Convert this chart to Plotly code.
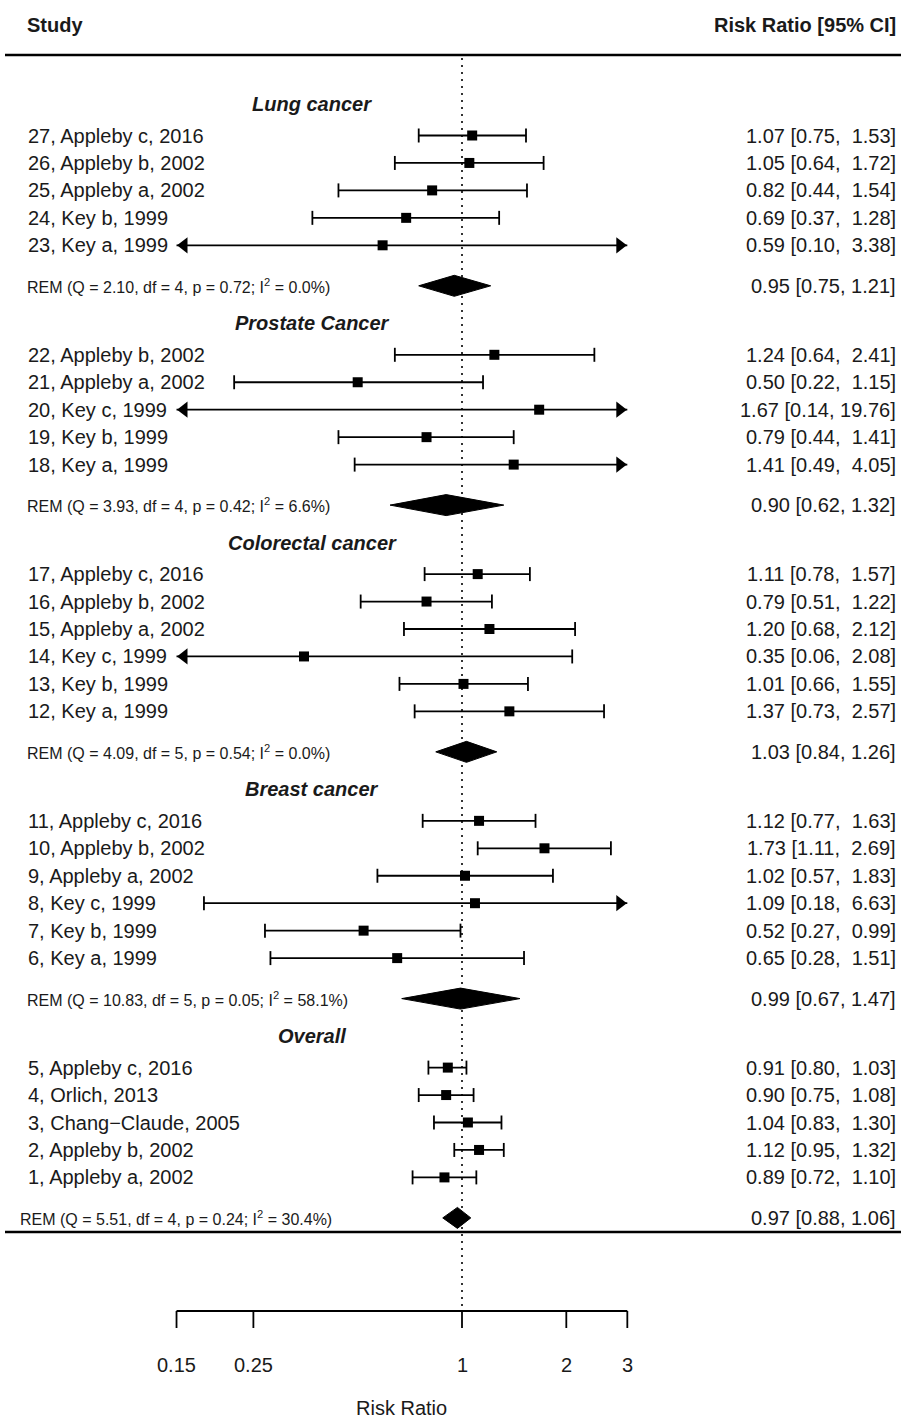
import numpy as np
import plotly.graph_objects as go

W, H = 901, 1421

# ---------------- data ----------------
group_names = ["Lung cancer", "Prostate Cancer", "Colorectal cancer", "Breast cancer", "Overall"]

lung_labels = ["27, Appleby c, 2016", "26, Appleby b, 2002", "25, Appleby a, 2002", "24, Key b, 1999", "23, Key a, 1999"]
lung_rr = [1.07, 1.05, 0.82, 0.69, 0.59]
lung_lo = [0.75, 0.64, 0.44, 0.37, 0.10]
lung_hi = [1.53, 1.72, 1.54, 1.28, 3.38]

prostate_labels = ["22, Appleby b, 2002", "21, Appleby a, 2002", "20, Key c, 1999", "19, Key b, 1999", "18, Key a, 1999"]
prostate_rr = [1.24, 0.50, 1.67, 0.79, 1.41]
prostate_lo = [0.64, 0.22, 0.14, 0.44, 0.49]
prostate_hi = [2.41, 1.15, 19.76, 1.41, 4.05]

colorectal_labels = ["17, Appleby c, 2016", "16, Appleby b, 2002", "15, Appleby a, 2002", "14, Key c, 1999", "13, Key b, 1999", "12, Key a, 1999"]
colorectal_rr = [1.11, 0.79, 1.20, 0.35, 1.01, 1.37]
colorectal_lo = [0.78, 0.51, 0.68, 0.06, 0.66, 0.73]
colorectal_hi = [1.57, 1.22, 2.12, 2.08, 1.55, 2.57]

breast_labels = ["11, Appleby c, 2016", "10, Appleby b, 2002", "9, Appleby a, 2002", "8, Key c, 1999", "7, Key b, 1999", "6, Key a, 1999"]
breast_rr = [1.12, 1.73, 1.02, 1.09, 0.52, 0.65]
breast_lo = [0.77, 1.11, 0.57, 0.18, 0.27, 0.28]
breast_hi = [1.63, 2.69, 1.83, 6.63, 0.99, 1.51]

overall_labels = ["5, Appleby c, 2016", "4, Orlich, 2013", "3, Chang\u2212Claude, 2005", "2, Appleby b, 2002", "1, Appleby a, 2002"]
overall_rr = [0.91, 0.90, 1.04, 1.12, 0.89]
overall_lo = [0.80, 0.75, 0.83, 0.95, 0.72]
overall_hi = [1.03, 1.08, 1.30, 1.32, 1.10]

rem_q = [2.10, 3.93, 4.09, 10.83, 5.51]
rem_df = [4, 4, 5, 5, 4]
rem_p = [0.72, 0.42, 0.54, 0.05, 0.24]
rem_i2 = [0.0, 6.6, 0.0, 58.1, 30.4]
rem_rr = [0.95, 0.90, 1.03, 0.99, 0.97]
rem_lo = [0.75, 0.62, 0.84, 0.67, 0.88]
rem_hi = [1.21, 1.32, 1.26, 1.47, 1.06]

tick_vals = [0.15, 0.25, 1, 2, 3]
tick_text = ["0.15", "0.25", "1", "2", "3"]

groups = [
    (lung_labels, lung_rr, lung_lo, lung_hi),
    (prostate_labels, prostate_rr, prostate_lo, prostate_hi),
    (colorectal_labels, colorectal_rr, colorectal_lo, colorectal_hi),
    (breast_labels, breast_rr, breast_lo, breast_hi),
    (overall_labels, overall_rr, overall_lo, overall_hi),
]

# ---------------- layout constants ----------------
PX_DEC = 346.5          # pixels per decade
X1_PX = 462.0           # pixel position of RR = 1
XMIN, XMAX = min(tick_vals), max(tick_vals)
x_range = [-X1_PX / PX_DEC, (W - X1_PX) / PX_DEC]

ROW = 27.45
HEAD_Y0 = 104.0
HEAD_TO_FIRST = 31.5
LAST_TO_REM = 40.5
REM_TO_HEAD = 37.5
CAP = 7.0
DIAM_H = 10.5

TXT = "#1a1a1a"
FONT = "Liberation Sans, Arial, sans-serif"
NB = "\u00a0"

def lx(v):
    return float(np.log10(v))

def px(xp):
    return xp / W

fig = go.Figure()
annotations = []
shapes = []

ci_x, ci_y, cap_x, cap_y = [], [], [], []
sq_x, sq_y = [], []
arl_x, arl_y, arr_x, arr_y = [], [], [], []
arrow_off = 7.5 / PX_DEC

y = HEAD_Y0
rem_rows = []
for gi, (labels, rr, lo, hi) in enumerate(groups):
    annotations.append(dict(x=px(312), y=y, xref="paper", yref="y", text="<b><i>%s</i></b>" % group_names[gi],
                            showarrow=False, xanchor="center", yanchor="middle", font=dict(size=20, color=TXT)))
    y += HEAD_TO_FIRST
    for i in range(len(labels)):
        if i > 0:
            y += ROW
        annotations.append(dict(x=px(26), y=y, xref="paper", yref="y", text=labels[i], showarrow=False,
                                xanchor="left", yanchor="middle", font=dict(size=20, color=TXT)))
        hs = ("%5.2f" % hi[i]).replace(" ", NB)
        annotations.append(dict(x=px(898), y=y, xref="paper", yref="y",
                                text="%.2f [%.2f, %s]" % (rr[i], lo[i], hs), showarrow=False,
                                xanchor="right", yanchor="middle", font=dict(size=20, color=TXT)))
        a = lx(max(lo[i], XMIN))
        b = lx(min(hi[i], XMAX))
        ci_x += [a, b, None]
        ci_y += [y, y, None]
        if lo[i] >= XMIN:
            cap_x += [lx(lo[i]), lx(lo[i]), None]
            cap_y += [y - CAP, y + CAP, None]
        else:
            arl_x.append(lx(XMIN) + arrow_off)
            arl_y.append(y)
        if hi[i] <= XMAX:
            cap_x += [lx(hi[i]), lx(hi[i]), None]
            cap_y += [y - CAP, y + CAP, None]
        else:
            arr_x.append(lx(XMAX) - arrow_off)
            arr_y.append(y)
        sq_x.append(lx(rr[i]))
        sq_y.append(y)
    y += LAST_TO_REM
    rem_rows.append(y)
    # diamond
    fig.add_trace(go.Scatter(
        x=[lx(rem_lo[gi]), lx(rem_rr[gi]), lx(rem_hi[gi]), lx(rem_rr[gi]), lx(rem_lo[gi])],
        y=[y, y - DIAM_H, y, y + DIAM_H, y],
        mode="lines", fill="toself", fillcolor="black", line=dict(color="black", width=1),
        hoverinfo="skip", showlegend=False))
    rem_txt = "REM (Q = %.2f, df = %d, p = %.2f; I<sup>2</sup> = %.1f%%)" % (rem_q[gi], rem_df[gi], rem_p[gi], rem_i2[gi])
    annotations.append(dict(x=px(18 if gi == len(groups) - 1 else 25), y=y, xref="paper", yref="y", text=rem_txt,
                            showarrow=False, xanchor="left", yanchor="middle", font=dict(size=16, color=TXT)))
    annotations.append(dict(x=px(898), y=y, xref="paper", yref="y",
                            text="%.2f [%.2f, %.2f]" % (rem_rr[gi], rem_lo[gi], rem_hi[gi]), showarrow=False,
                            xanchor="right", yanchor="middle", font=dict(size=20, color=TXT)))
    y += REM_TO_HEAD

fig.add_trace(go.Scatter(x=ci_x, y=ci_y, mode="lines", line=dict(color="black", width=1.8),
                         hoverinfo="skip", showlegend=False))
fig.add_trace(go.Scatter(x=cap_x, y=cap_y, mode="lines", line=dict(color="black", width=1.8),
                         hoverinfo="skip", showlegend=False))
fig.add_trace(go.Scatter(x=arl_x, y=arl_y, mode="markers", marker=dict(symbol="triangle-left", size=14, color="black"),
                         hoverinfo="skip", showlegend=False))
fig.add_trace(go.Scatter(x=arr_x, y=arr_y, mode="markers", marker=dict(symbol="triangle-right", size=14, color="black"),
                         hoverinfo="skip", showlegend=False))
fig.add_trace(go.Scatter(x=sq_x, y=sq_y, mode="markers", marker=dict(symbol="square", size=10, color="black"),
                         hoverinfo="skip", showlegend=False))

# header
TOP_RULE = 55
BOT_RULE = rem_rows[-1] + 14
AXIS_Y = 1311
annotations.append(dict(x=px(25), y=25, xref="paper", yref="y", text="<b>Study</b>", showarrow=False,
                        xanchor="left", yanchor="middle", font=dict(size=20, color=TXT)))
annotations.append(dict(x=px(898), y=25, xref="paper", yref="y", text="<b>Risk Ratio [95% CI]</b>", showarrow=False,
                        xanchor="right", yanchor="middle", font=dict(size=20, color=TXT)))

shapes.append(dict(type="line", xref="paper", yref="y", x0=px(5), x1=1, y0=TOP_RULE, y1=TOP_RULE,
                   line=dict(color="black", width=2.5)))
shapes.append(dict(type="line", xref="paper", yref="y", x0=px(5), x1=1, y0=BOT_RULE, y1=BOT_RULE,
                   line=dict(color="black", width=2.5)))
# reference line at RR = 1
shapes.append(dict(type="line", xref="x", yref="y", x0=0, x1=0, y0=TOP_RULE + 3, y1=AXIS_Y,
                   line=dict(color="black", width=1.6, dash="2px,5px")))
# axis
shapes.append(dict(type="line", xref="x", yref="y", x0=lx(XMIN), x1=lx(XMAX), y0=AXIS_Y, y1=AXIS_Y,
                   line=dict(color="black", width=1.8)))
for tv, tt in zip(tick_vals, tick_text):
    shapes.append(dict(type="line", xref="x", yref="y", x0=lx(tv), x1=lx(tv), y0=AXIS_Y, y1=AXIS_Y + 17,
                       line=dict(color="black", width=1.8)))
    annotations.append(dict(x=lx(tv), y=AXIS_Y + 54, xref="x", yref="y", text=tt, showarrow=False,
                            xanchor="center", yanchor="middle", font=dict(size=20, color=TXT)))
annotations.append(dict(x=(lx(XMIN) + lx(XMAX)) / 2, y=AXIS_Y + 97, xref="x", yref="y", text="Risk Ratio",
                        showarrow=False, xanchor="center", yanchor="middle", font=dict(size=20, color=TXT)))

fig.update_layout(
    width=W, height=H,
    margin=dict(l=0, r=0, t=0, b=0),
    paper_bgcolor="white", plot_bgcolor="white",
    font=dict(family=FONT, size=20, color=TXT),
    xaxis=dict(range=x_range, visible=False, showgrid=False, zeroline=False, fixedrange=True),
    yaxis=dict(range=[H, 0], visible=False, showgrid=False, zeroline=False, fixedrange=True),
    shapes=shapes, annotations=annotations, showlegend=False,
)
fig.write_html("out.html", config={"displayModeBar": False},
               post_script="document.body.style.margin='0';document.body.style.overflow='hidden';")
